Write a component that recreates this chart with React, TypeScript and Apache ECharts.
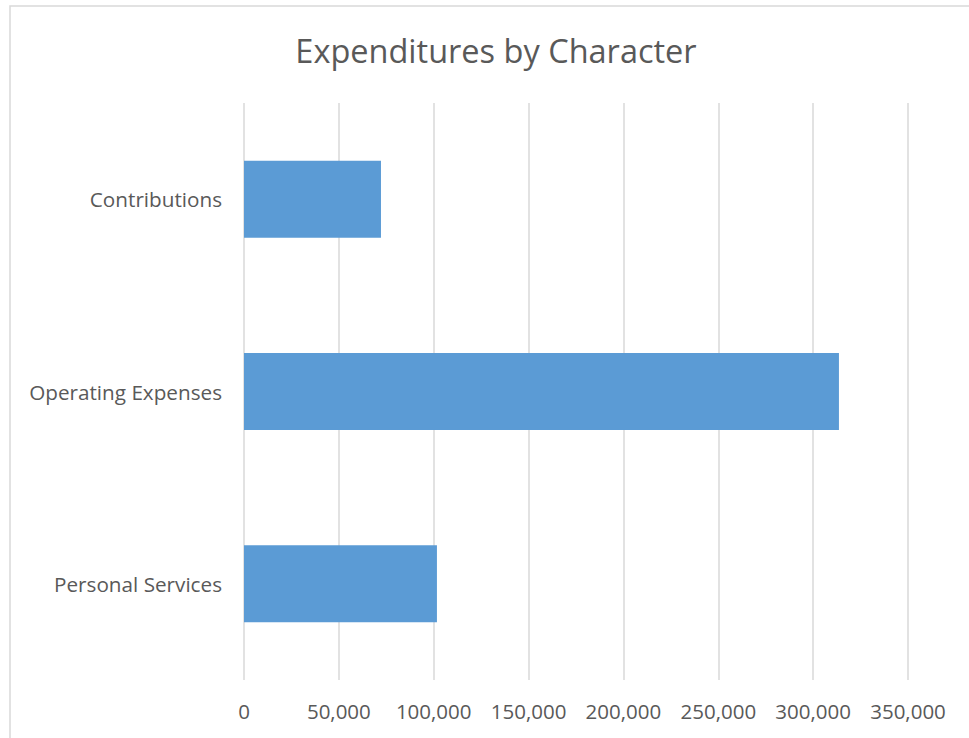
import React, { useEffect, useRef } from "react";
import * as echarts from "echarts";

const categories = ["Personal Services", "Operating Expenses", "Contributions"];
const values = [101700, 313600, 72200];
const axisMax = 350000;
const axisInterval = 50000;
const titleText = "Expenditures by Character";

export default function App() {
  const ref = useRef<HTMLDivElement>(null);
  useEffect(() => {
    if (!ref.current) return;
    const chart = echarts.init(ref.current, null, { renderer: "svg" });
    chart.setOption({
      animation: false,
      backgroundColor: "#ffffff",
      title: {
        text: titleText,
        left: 491,
        textAlign: "center",
        top: 29,
        textStyle: {
          fontFamily: "Open Sans",
          fontSize: 32.5,
          fontWeight: "normal",
          color: "#595959",
        },
      },
      graphic: [
        {
          type: "rect",
          shape: { x: 10, y: 6, width: 1000, height: 800 },
          style: { fill: "none", stroke: "#d9d9d9", lineWidth: 1.5 },
          silent: true,
        },
      ],
      grid: { left: 244, right: 61, top: 103, bottom: 58, containLabel: false },
      xAxis: {
        type: "value",
        min: 0,
        max: axisMax,
        interval: axisInterval,
        axisLine: { show: false },
        axisTick: { show: false },
        splitLine: { show: true, lineStyle: { color: "#d9d9d9", width: 1.5 } },
        axisLabel: {
          margin: 20,
          fontFamily: "Open Sans",
          fontSize: 20.5,
          color: "#595959",
          formatter: (v: number) => v.toLocaleString("en-US"),
        },
      },
      yAxis: {
        type: "category",
        data: categories,
        axisLine: { show: false },
        axisTick: { show: false },
        splitLine: { show: false },
        axisLabel: {
          margin: 22,
          fontFamily: "Open Sans",
          fontSize: 20.7,
          color: "#595959",
        },
      },
      series: [
        {
          type: "bar",
          data: values,
          barCategoryGap: "60%",
          itemStyle: { color: "#5B9BD5" },
        },
      ],
    });
    return () => chart.dispose();
  }, []);
  return (
    <div
      ref={ref}
      style={{ position: "fixed", left: 0, top: 0, width: 969, height: 738 }}
    />
  );
}
